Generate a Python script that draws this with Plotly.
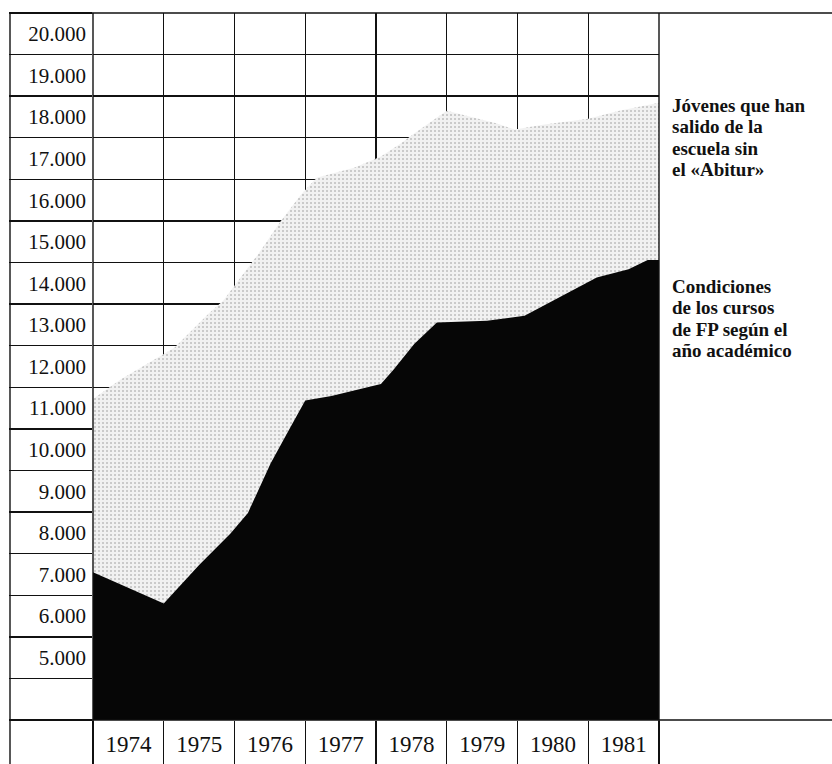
import plotly.graph_objects as go

# ---------------- data ----------------
years = [1974, 1975, 1976, 1977, 1978, 1979, 1980, 1981]
y_ticks = [5000, 6000, 7000, 8000, 9000, 10000, 11000, 12000, 13000,
           14000, 15000, 16000, 17000, 18000, 19000, 20000]

# Jóvenes que han salido de la escuela sin el «Abitur» (upper, light area)
abitur_x = [1974.0, 1974.39, 1974.63, 1975.15, 1975.64, 1975.84, 1976.33, 1976.64,
            1976.93, 1977.16, 1977.69, 1978.07, 1978.35, 1978.54, 1979.0, 1979.34,
            1979.71, 1979.96, 1980.38, 1981.0, 1981.44, 1982.0]
abitur_y = [11220, 11690, 11930, 12450, 13280, 13580, 14690, 15460,
            16110, 16540, 16780, 17050, 17360, 17600, 18150, 18010,
            17840, 17700, 17820, 17960, 18150, 18340]

# Condiciones de los cursos de FP según el año académico (lower, dark area)
fp_x = [1974.0, 1975.0, 1975.5, 1975.94, 1976.19, 1976.51, 1976.8, 1977.0, 1977.37,
        1978.07, 1978.25, 1978.54, 1978.86, 1979.57, 1980.1, 1980.56, 1981.12,
        1981.57, 1981.84, 1982.0]
fp_y = [7050, 6300, 7230, 7980, 8480, 9670, 10570, 11180, 11290,
        11580, 11930, 12540, 13060, 13100, 13220, 13630, 14140,
        14340, 14560, 14560]

label_abitur = ["Jóvenes que han", "salido de la", "escuela sin", "el «Abitur»"]
label_fp = ["Condiciones", "de los cursos", "de FP según el", "año académico"]

# ---------------- figure ----------------
W, H = 832, 764
ML, MR, MT, MB = 93, 173, 13, 44
PW, PH = W - ML - MR, H - MT - MB

SERIF = "Liberation Serif, Times New Roman, serif"
LINE = "#111111"

fig = go.Figure()
fig.add_trace(go.Scatter(
    x=abitur_x, y=abitur_y, mode="lines", fill="tozeroy",
    line=dict(width=0, color="#d0d0d0"),
    fillcolor="#efefef",
    fillpattern=dict(shape=".", fgcolor="#8a8a8a", bgcolor="#f1f1f1",
                     size=4, solidity=0.2),
    hoverinfo="skip"))
fig.add_trace(go.Scatter(
    x=fp_x, y=fp_y, mode="lines", fill="tozeroy",
    line=dict(width=0, color="#060606"),
    fillcolor="#060606", hoverinfo="skip"))

y0, y1 = y_ticks[0] - 1500, y_ticks[-1] + 500
x0, x1 = years[0], years[-1] + 1

fig.update_xaxes(
    range=[x0, x1], showgrid=False, zeroline=False, showline=False,
    automargin=False, fixedrange=True,
    tickvals=[y + 0.5 for y in years], ticktext=[str(y) for y in years],
    ticks="", tickfont=dict(family=SERIF, size=23, color="#111"),
    ticklabelstandoff=8,
    minor=dict(tick0=x0, dtick=1, showgrid=True, gridcolor=LINE, gridwidth=1.4,
               ticks="outside", ticklen=MB, tickcolor=LINE, tickwidth=1.4),
)
fig.update_yaxes(
    range=[y0, y1], showgrid=False, zeroline=False, showline=False,
    automargin=False, fixedrange=True,
    tickvals=y_ticks, ticktext=[f"{v:,}".replace(",", ".") for v in y_ticks],
    ticks="", tickfont=dict(family=SERIF, size=21, color="#111"),
    ticklabelstandoff=6,
    minor=dict(tick0=y0, dtick=1000, showgrid=True, gridcolor=LINE, gridwidth=1.4,
               ticks="outside", ticklen=ML - 10, tickcolor=LINE, tickwidth=1.4),
)

# frame lines (table borders)
px = lambda p: (p - ML) / PW          # pixel x -> paper x
py = lambda p: (H - MB - p) / PH      # pixel y -> paper y
shapes = [
    dict(type="line", xref="paper", yref="paper", x0=px(10), x1=px(W), y0=1, y1=1),
    dict(type="line", xref="paper", yref="paper", x0=px(10), x1=px(W), y0=0, y1=0),
    dict(type="line", xref="paper", yref="paper", x0=px(10), x1=px(10), y0=py(H), y1=1),
    dict(type="line", xref="paper", yref="paper", x0=0, x1=0, y0=py(H), y1=1),
    dict(type="line", xref="paper", yref="paper", x0=1, x1=1, y0=py(H), y1=1),
]
for s in shapes:
    s["line"] = dict(color=LINE, width=1.4)
    s["layer"] = "above"

annotations = []
for lines, top in ((label_abitur, 105), (label_fp, 286)):
    for i, t in enumerate(lines):
        annotations.append(dict(
            text=t, xref="paper", yref="paper", x=px(670), y=py(top + i * 21.5),
            xanchor="left", yanchor="middle", showarrow=False,
            font=dict(family=SERIF, size=19, color="#111", weight="bold")))

fig.update_layout(
    width=W, height=H, autosize=False,
    margin=dict(l=ML, r=MR, t=MT, b=MB, pad=0, autoexpand=False),
    paper_bgcolor="white", plot_bgcolor="white",
    showlegend=False, shapes=shapes, annotations=annotations,
)

fig.write_html("out.html", config={"displayModeBar": False, "staticPlot": True},
               post_script="document.body.style.margin='0';"
                           "document.body.style.overflow='hidden';")
